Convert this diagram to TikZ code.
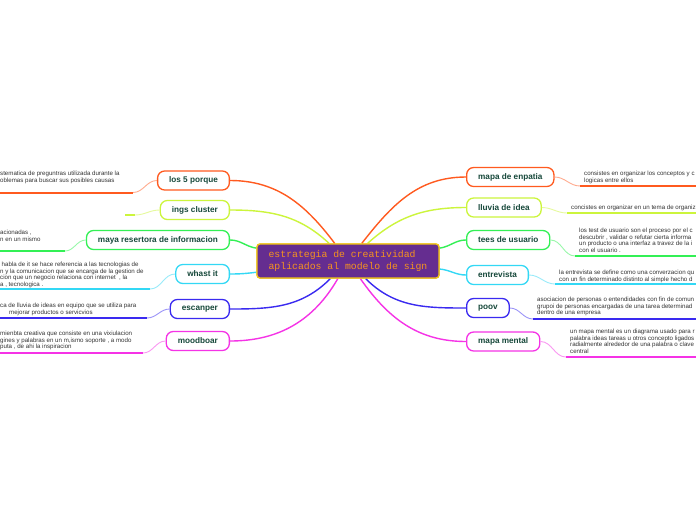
\documentclass[tikz,border=0pt]{standalone}
\usepackage{fontspec}
\setmainfont{Liberation Sans}
\newfontfamily\monofnt{Liberation Mono}
\definecolor{corange}{HTML}{FF5A1F}
\definecolor{cygreen}{HTML}{CCF53C}
\definecolor{cgreen}{HTML}{33F055}
\definecolor{ccyan}{HTML}{33D8F5}
\definecolor{cblue}{HTML}{3A2AF0}
\definecolor{cmag}{HTML}{F533E6}
\definecolor{nodetext}{HTML}{16483A}
\definecolor{leaftext}{HTML}{333333}
\definecolor{cfill}{HTML}{652D90}
\definecolor{cborder}{HTML}{F0C419}
\definecolor{ctext}{HTML}{F7941E}
\tikzset{
  topic/.style={draw=#1, line width=1.3pt, rounded corners=7pt, fill=white,
    minimum height=19pt, inner xsep=11.5pt, inner ysep=0pt,
    font=\fontsize{8.2}{9}\selectfont\bfseries, text=nodetext},
  branch/.style={draw=#1, line width=1.4pt},
  twig/.style={draw=#1!50!white, line width=0.9pt},
  uline/.style={draw=#1, line width=2pt},
  leaf/.style={font=\fontsize{6.15}{6.5}\selectfont, text=leaftext, align=left,
    inner sep=0pt, anchor=north west},
  centre/.style={draw=cborder, fill=cfill, line width=1.3pt, rounded corners=3pt,
    minimum width=182pt, minimum height=34pt, inner sep=2pt, align=left,
    text=ctext, font=\monofnt\fontsize{9.8}{12}\selectfont},
}
\begin{document}
\begin{tikzpicture}[x=1pt,y=-1pt]
\useasboundingbox (0,0) rectangle (696,520);
\fill[white] (0,0) rectangle (696,520);
\clip (0,0) rectangle (696,520);

% central node (for connector geometry)
\node[centre] (c) at (348,261) {estrategia de creatividad\\aplicados al modelo de sign};

% topic nodes, left
\node[topic=corange, anchor=east] (l1) at (230,180.5) {los 5 porque};
\node[topic=cygreen, anchor=east] (l2) at (230,210) {ings cluster};
\node[topic=cgreen, anchor=east] (l3) at (230,240) {maya resertora de informacion};
\node[topic=ccyan, anchor=east] (l4) at (230,274) {whast it};
\node[topic=cblue, anchor=east] (l5) at (230,309) {escanper};
\node[topic=cmag, anchor=east] (l6) at (230,341) {moodboar};

% topic nodes, right
\node[topic=corange, anchor=west] (r1) at (466,177) {mapa de enpatia};
\node[topic=cygreen, anchor=west] (r2) at (466,207.5) {lluvia de idea};
\node[topic=cgreen, anchor=west] (r3) at (466,240) {tees de usuario};
\node[topic=ccyan, anchor=west] (r4) at (466,275) {entrevista};
\node[topic=cblue, anchor=west] (r5) at (466,308) {poov};
\node[topic=cmag, anchor=west] (r6) at (466,341.5) {mapa mental};

% branches from center
\draw[branch=corange] (c) to[out=127,in=0] (l1.east);
\draw[branch=cygreen] (c) to[out=137,in=0] (l2.east);
\draw[branch=cgreen] (c) to[out=172,in=0] (l3.east);
\draw[branch=ccyan] (c) to[out=187,in=0] (l4.east);
\draw[branch=cblue] (c) to[out=225,in=0] (l5.east);
\draw[branch=cmag] (c) to[out=240,in=0] (l6.east);
\draw[branch=corange] (c) to[out=52,in=180] (r1.west);
\draw[branch=cygreen] (c) to[out=42,in=180] (r2.west);
\draw[branch=cgreen] (c) to[out=8,in=180] (r3.west);
\draw[branch=ccyan] (c) to[out=-5,in=180] (r4.west);
\draw[branch=cblue] (c) to[out=-45,in=180] (r5.west);
\draw[branch=cmag] (c) to[out=-55,in=180] (r6.west);

% centre drawn on top of the branches
\node[centre] (ctop) at (348,261) {estrategia de creatividad\\aplicados al modelo de sign};

% leaf coordinates
\coordinate (ul1) at (133,192.5); \coordinate (ul1e) at (-2,192.5);
\coordinate (ul2) at (135,215); \coordinate (ul2e) at (125,215);
\coordinate (ul3) at (65,251); \coordinate (ul3e) at (-2,251);
\coordinate (ul4) at (150,289); \coordinate (ul4e) at (-2,289);
\coordinate (ul5) at (147,318); \coordinate (ul5e) at (-2,318);
\coordinate (ul6) at (143,353); \coordinate (ul6e) at (-2,353);
\coordinate (ur1) at (580,186); \coordinate (ur1e) at (698,186);
\coordinate (ur2) at (567,213); \coordinate (ur2e) at (698,213);
\coordinate (ur3) at (575,256); \coordinate (ur3e) at (698,256);
\coordinate (ur4) at (555,284); \coordinate (ur4e) at (698,284);
\coordinate (ur5) at (533,319); \coordinate (ur5e) at (698,319);
\coordinate (ur6) at (566,357); \coordinate (ur6e) at (698,357);

% twigs and underlines, left
\draw[twig=corange] (l1.west) to[out=180,in=0] (ul1);
\draw[uline=corange] (ul1) -- (ul1e);
\draw[twig=cygreen] (l2.west) to[out=180,in=0] (ul2);
\draw[uline=cygreen] (ul2) -- (ul2e);
\draw[twig=cgreen] (l3.west) to[out=180,in=0] (ul3);
\draw[uline=cgreen] (ul3) -- (ul3e);
\draw[twig=ccyan] (l4.west) to[out=180,in=0] (ul4);
\draw[uline=ccyan] (ul4) -- (ul4e);
\draw[twig=cblue] (l5.west) to[out=180,in=0] (ul5);
\draw[uline=cblue] (ul5) -- (ul5e);
\draw[twig=cmag] (l6.west) to[out=180,in=0] (ul6);
\draw[uline=cmag] (ul6) -- (ul6e);

% twigs and underlines, right
\draw[twig=corange] (r1.east) to[out=0,in=180] (ur1);
\draw[uline=corange] (ur1) -- (ur1e);
\draw[twig=cygreen] (r2.east) to[out=0,in=180] (ur2);
\draw[uline=cygreen] (ur2) -- (ur2e);
\draw[twig=cgreen] (r3.east) to[out=0,in=180] (ur3);
\draw[uline=cgreen] (ur3) -- (ur3e);
\draw[twig=ccyan] (r4.east) to[out=0,in=180] (ur4);
\draw[uline=ccyan] (ur4) -- (ur4e);
\draw[twig=cblue] (r5.east) to[out=0,in=180] (ur5);
\draw[uline=cblue] (ur5) -- (ur5e);
\draw[twig=cmag] (r6.east) to[out=0,in=180] (ur6);
\draw[uline=cmag] (ur6) -- (ur6e);

% leaf texts, left
\node[leaf] (t1) at (0,171) {stematica de preguntras utilizada durante la\\oblemas para buscar sus posibles causas};
\node[leaf] (t3) at (0,230) {acionadas ,\\n en un mismo};
\node[leaf] (t4) at (0,262) {\hspace*{1.5pt}habla de it se hace referencia a las tecnologias de\\n y la comunicacion que se encarga de la gestion de\\cion que un negocio relaciona con internet \ , la\\a , tecnologica .};
\node[leaf] (t5) at (0,303) {ca de lluvia de ideas en equipo que se utiliza para\\\hspace*{9pt}mejorar productos o servicvios};
\node[leaf] (t6) at (0,331) {mienbta creativa que consiste en una vixiulacion\\gines y palabras en un m,ismo soporte , a modo\\puta , de ahi la inspiracion};

% leaf texts, right
\node[leaf] (s1) at (584,171) {consistes en organizar los conceptos y c\\logicas entre ellos};
\node[leaf] (s2) at (571,205) {concistes en organizar en un tema de organiz};
\node[leaf] (s3) at (579,228) {los test de usuario son el proceso por el c\\descubrir , validar o refutar cierta informa\\un producto o una interfaz a travez de la i\\con el usuario .};
\node[leaf] (s4) at (559,270) {la entrevista se define como una converzacion qu\\con un fin determinado distinto al simple hecho d};
\node[leaf] (s5) at (537,297) {asociacion de personas o entendidades con fin de comun\\grupoi de personas encargadas de una tarea determinad\\dentro de una empresa};
\node[leaf] (s6) at (570,329) {un mapa mental es un diagrama usado para r\\palabra ideas tareas u otros concepto ligados\\radialmente alrededor de una palabra o clave\\central};
\end{tikzpicture}
\end{document}
